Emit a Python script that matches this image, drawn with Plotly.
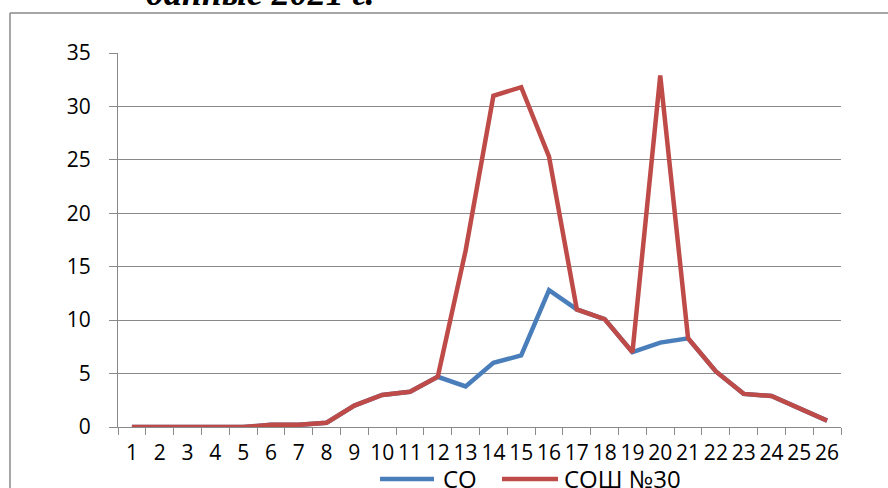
import plotly.graph_objects as go

# Age groups on the category axis
categories = [str(i) for i in range(1, 27)]

# Series values
so_values = [0, 0, 0, 0, 0, 0.2, 0.2, 0.4, 2.0, 3.0, 3.3, 4.7, 3.8, 6.0, 6.7,
             12.8, 11.0, 10.1, 7.0, 7.9, 8.3, 5.2, 3.1, 2.9, 1.7, 0.6]
school_values = [0, 0, 0, 0, 0, 0.2, 0.2, 0.4, 2.0, 3.0, 3.3, 4.7, 16.5, 31.0, 31.8,
                 25.3, 11.0, 10.1, 7.0, 32.9, 8.3, 5.2, 3.1, 2.9, 1.7, 0.6]

series_names = ["СО", "СОШ №30"]
series_colors = ["#4A7EBB", "#BE4B48"]
y_ticks = [0, 5, 10, 15, 20, 25, 30, 35]
title_text = "данные 2021 г."

GRAY = "#898989"
FONT = "Open Sans"

fig = go.Figure()
for name, vals, col in zip(series_names, [so_values, school_values], series_colors):
    fig.add_trace(go.Scatter(
        x=categories, y=vals, mode="lines", name=name,
        line=dict(color=col, width=4.5),
        showlegend=False,
    ))

fig.update_layout(
    width=888, height=488,
    margin=dict(l=118, r=47, t=53, b=61),
    paper_bgcolor="white", plot_bgcolor="white",
    font=dict(family=FONT, color="black"),
    xaxis=dict(
        type="category", tickson="boundaries",
        range=[-0.5, len(categories) - 0.5],
        showgrid=False, showline=True, linecolor=GRAY, linewidth=1,
        ticks="outside", ticklen=7, tickcolor=GRAY, tickwidth=1,
        tickangle=0,
        tickfont=dict(size=21, family=FONT),
        ticklabelstandoff=7,
    ),
    yaxis=dict(
        range=[0, 35], tickvals=y_ticks,
        showgrid=True, gridcolor=GRAY, gridwidth=1,
        showline=True, linecolor=GRAY, linewidth=1, zeroline=False,
        ticks="outside", ticklen=8, tickcolor=GRAY, tickwidth=1,
        tickfont=dict(size=21, family=FONT),
        ticklabelstandoff=14,
    ),
)

# Outer chart frame (top and left edges)
fig.add_shape(type="line", xref="paper", yref="paper",
              x0=-0.1494, x1=1.2, y0=1.107, y1=1.107,
              line=dict(color=GRAY, width=1.5))
fig.add_shape(type="line", xref="paper", yref="paper",
              x0=-0.1494, x1=-0.1494, y0=1.107, y1=-0.3,
              line=dict(color=GRAY, width=1.5))

# Legend drawn below the axis
legend_pos = [(0.3624, 0.4371, 0.4467), (0.5311, 0.6086, 0.6141)]
for (x0, x1, xt), name, col in zip(legend_pos, series_names, series_colors):
    fig.add_shape(type="line", xref="paper", yref="paper",
                  x0=x0, x1=x1, y0=-0.139, y1=-0.139,
                  line=dict(color=col, width=4.5))
    fig.add_annotation(xref="paper", yref="paper", x=xt, y=-0.137,
                       xanchor="left", yanchor="middle", showarrow=False,
                       text=name, font=dict(size=24, family=FONT, color="black"))

# Heading text partly above the page edge
fig.add_annotation(xref="paper", yref="paper", x=0.036, y=1.16,
                   xanchor="left", yanchor="middle", showarrow=False,
                   text="<b><i>" + title_text + "</i></b>",
                   font=dict(size=36, family="Liberation Serif", color="black"))

fig.write_html("out.html")
